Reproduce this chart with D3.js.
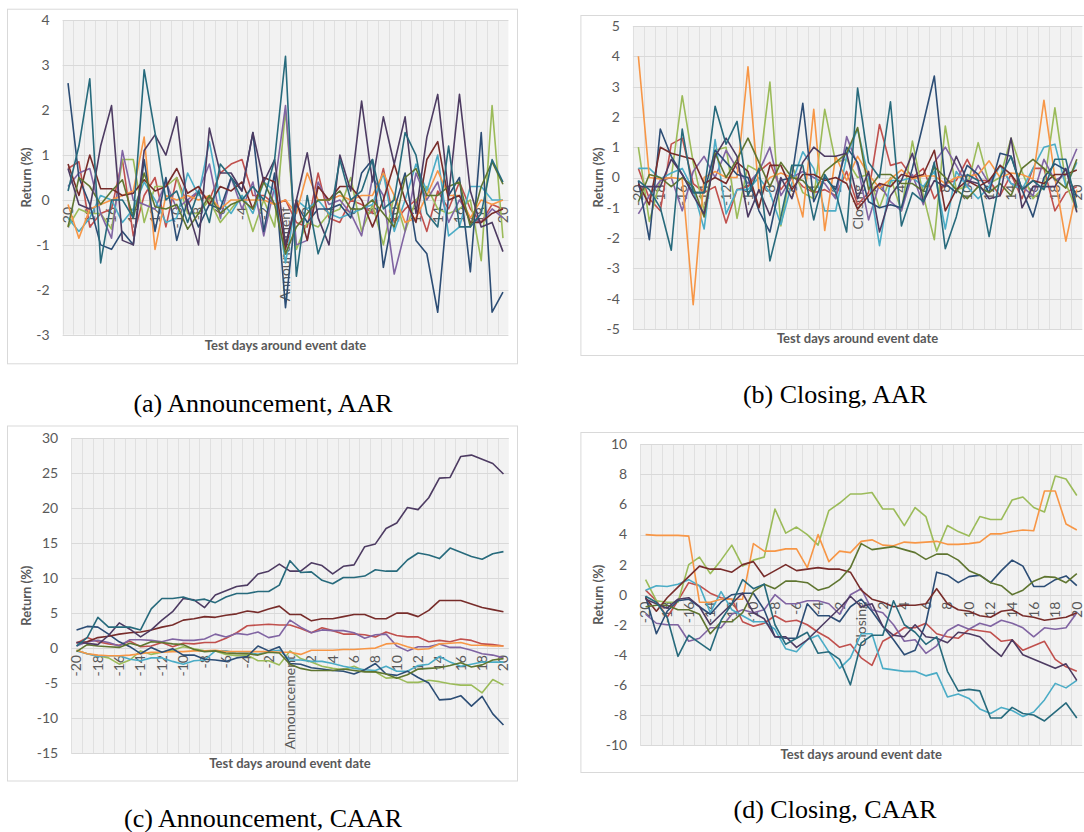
<!DOCTYPE html>
<html>
<head>
<meta charset="utf-8">
<script src="https://cdn.jsdelivr.net/npm/d3@7"></script>
<style>
    body { margin: 0; background: #fff; }
    svg { display: block; }
    .tick-lab { font-family: Lato, 'Open Sans', sans-serif; font-size: 14px; fill: #595959; }
    .axis-title { font-family: Lato, 'Open Sans', sans-serif; font-size: 13px; font-weight: bold; fill: #595959; }
    .caption { font-family: 'Liberation Serif', serif; font-size: 26px; fill: #000; }
</style>
</head>
<body>
<svg id="svg" width="1084" height="832"></svg>
<script>

// test days around the event
var days = [-20, -19, -18, -17, -16, -15, -14, -13, -12, -11, -10, -9, -8, -7, -6, -5, -4, -3, -2, -1,
    0, 1, 2, 3, 4, 5, 6, 7, 8, 9, 10, 11, 12, 13, 14, 15, 16, 17, 18, 19, 20];
var tickDays = [-20, -18, -16, -14, -12, -10, -8, -6, -4, -2, 0, 2, 4, 6, 8, 10, 12, 14, 16, 18, 20];

// series colours (excel 2007 palette, series 2..11)
var seriesColors = ['#C0504D', '#9BBB59', '#8064A2', '#4BACC6', '#F79646',
    '#2C4D75', '#772C2A', '#5F7530', '#4D3B62', '#276A7C'];

// (a) announcement, AAR  -- one row per series, same order as seriesColors
var annAAR = [
    [0.7, 0.85, -0.6, -0.3, -0.2, 0.9, -0.8, 0.1, 0.5, -0.6, 0.5, -0.1, 0.2, 0, 0.6, 0.8, 0.9, 0.1, 0.1, -0.1, 0, -0.5, -0.6, 0.6, -0.4, -0.5, 0, -0.1, -0.3, 0.7, -0.5, -0.2, 0, -0.7, 0.2, -0.2, 0.4, -0.2, -0.5, -0.1, -0.2],
    [-0.6, -0.2, -0.3, -0.3, -0.65, 0.9, 0.9, -0.5, 0.3, 0.3, 0.5, -0.3, -0.3, 0, -0.5, -0.2, 0.1, -0.7, 0, -0.6, 2.0, -1.1, -0.5, -0.6, -0.3, -0.2, 0.5, -0.7, -0.1, -1.0, 0.1, -0.7, 0, 0.3, -0.2, -0.3, -0.2, 0, -1.35, 2.1, -0.85],
    [0.3, 0.6, 0.7, -0.3, -0.85, 1.1, 0, -0.1, -0.2, 0.4, -0.2, 0, 0.2, 0.8, -0.4, 0.5, -0.2, 0.4, -0.8, 0.3, 2.1, -1.0, -0.9, 0.4, -0.1, 0, -0.3, -0.8, 0.5, 0.1, -1.65, -0.7, 0.6, 0, 0.4, -0.5, 0, -0.4, -0.5, -0.2, -0.4],
    [-0.4, -0.7, -0.4, 0.1, 0, -0.5, -0.2, 0.4, 0, -0.5, -0.4, 0.6, 0.1, 1.3, 0, -0.3, 0.1, -0.3, 0.4, 0.2, -1.4, 0, -0.2, 0, -0.3, -0.4, -0.3, -0.2, -0.1, 0.6, -0.7, 0, 0.8, 0.2, 1.0, -0.8, -0.6, 0.3, 0.3, 0, 0],
    [-0.1, -0.85, -0.2, -0.1, 0, 0.1, 0.2, 1.4, -1.1, 0.1, 0, 0.1, 0, 0.1, -0.2, 0, 0, 0, 0, -0.1, 0, -0.3, 0.6, 0, 0, 0.1, 0, 0.1, 0.1, 0.6, 0.1, -0.5, -0.4, 0.1, 0.65, 0.1, 0.1, -0.4, 0, -0.1, 0],
    [2.6, 0.5, -0.1, -1.0, -1.1, -0.7, -1.0, 0.9, -0.7, 0.5, -0.9, 0, -0.6, -0.1, -0.2, 0.5, 0.2, 1.5, -0.7, 0.6, -2.4, -0.1, -0.5, -0.2, -0.2, -0.1, -0.4, 0.6, 0.9, -1.5, -0.2, 0.6, -0.9, -1.2, -2.5, 0.1, 0.5, -1.6, 1.5, -2.5, -2.05],
    [0.8, 0.1, 1.0, 0.25, 0.25, 0.1, 0.15, 0.45, 0.2, 0.3, 0.7, 0.15, 0.3, -0.1, 0.3, 0.2, 0.4, -0.2, 0.5, 0.4, -1.1, 0, -0.9, 0.3, 0, 0.3, 0.3, 0, -0.6, 0, 0.8, 0, -0.5, 0.9, 1.3, 0, 0.1, -0.5, -0.5, -0.3, -0.2],
    [-0.6, 0.5, 0.3, -0.1, 0.2, 0.45, -0.4, 0.6, -0.15, -0.2, -0.1, -0.65, -0.3, 0.1, -0.3, -0.1, 0, -0.2, 0.4, -0.1, -1.2, -0.6, -0.3, 0, 0, 0.2, -0.2, -0.2, 0, -0.3, -0.6, 0.5, 0.7, 0.1, 0.1, 0.3, 0.4, -0.6, 0.3, 0.85, 0.35],
    [0.7, -0.1, -0.2, 1.2, 2.1, -0.9, -1.0, 1.1, 1.45, 1.0, 1.85, -0.2, -1.0, 1.6, 0.6, 0.6, 0.2, 1.5, 0.4, 0.9, -1.0, 0, 1.05, -0.4, -1.0, 1.0, 0.2, 2.2, 0.4, 1.85, 0.8, 1.85, -0.3, 1.4, 2.35, 0.1, 2.35, 0.2, -0.6, -0.5, -1.15],
    [0.2, 1.2, 2.7, -1.4, 0, 0, -0.4, 2.9, 1.5, 0, 0.2, -0.5, 0.2, -0.5, 0.8, 0.5, 0, 0.3, 0, 0.9, 3.2, -1.7, 0.1, -1.2, -0.5, 0.9, 0, 0.2, 0.9, -0.2, 0, 1.5, 1.0, -0.3, -0.6, 1.2, -0.6, -0.6, -0.3, 0.9, 0.4]
];

// (b) closing, AAR
var closeAAR = [
    [0.3, -0.7, -1.1, 1.1, 1.3, -0.2, -0.5, -0.3, -1.5, -0.4, -0.3, 0.2, 0.5, -0.4, 0.1, -0.3, -0.5, -0.4, -0.6, 0.2, -0.9, -0.5, 1.75, 0.4, 0.5, 0.0, 0.3, -0.7, -0.2, -0.1, 0.6, -0.1, -0.1, -0.6, 0.1, -0.7, 0.3, 0.3, -1.1, -0.5, -0.3],
    [1.0, -1.45, -0.1, 0.0, 2.7, 0.5, -1.1, 0.9, 1.0, -1.35, 0.4, 0.2, 3.15, -1.6, 0.4, -0.5, -0.7, 2.25, 0.5, 0.6, 0.0, 0.1, -1.0, 0.0, -1.1, 1.2, -0.6, -2.05, 1.7, -0.4, -0.3, 1.15, -0.2, 0.0, 1.3, 0.2, -0.7, -0.3, 2.3, -0.2, -1.1],
    [-1.2, -0.6, -0.1, 0.0, -1.1, 0.2, 0.7, 0.0, 0.9, 0.3, -0.2, 0.2, 1.0, -0.6, 0.0, 0.2, 0.0, -0.2, -0.7, 1.35, 0.4, -1.4, -0.2, -0.8, -1.1, 0.1, -0.9, 0.5, 1.0, 0.4, -0.3, 0.4, -0.2, 0.4, -0.2, -0.3, -0.6, 0.6, -0.1, 0.1, 0.95],
    [0.3, 0.3, -0.05, 0.15, 0.3, -0.4, -1.7, 1.25, -1.2, -0.4, -0.4, 0.0, -0.5, -1.55, -0.2, 0.85, 0.3, -1.1, -1.1, 0.7, 1.6, 0.0, -2.25, -0.1, -0.1, 0.0, -0.3, 0.2, -1.7, 0.2, -0.3, -0.7, -0.3, 0.4, -0.2, -0.4, 0.3, 1.0, 1.1, -0.3, 0.5],
    [4.0, 0.0, -0.05, 0.0, -0.05, -4.2, 0.0, 0.2, 0.0, 0.0, 3.65, -0.5, 0.0, 0.15, 0.0, -1.3, 2.25, -1.75, 0.7, -0.1, 0.7, 0.1, -0.35, -0.05, 0.25, -0.05, 0.05, 0.05, -0.2, 0.0, 0.05, 0.1, 0.55, 0.0, 0.15, 0.1, -0.05, 2.55, 0.0, -2.1, -0.4],
    [-0.1, -2.05, 1.6, 0.7, 0.1, -0.5, -0.5, 0.9, 0.5, 0.1, 0.0, -1.1, -1.8, -0.1, 0.0, 2.45, -0.8, 0.0, -0.4, 1.0, 0.5, -0.8, -1.0, -0.9, -1.0, 0.3, 1.8, 3.35, -0.2, -0.5, 0.4, 0.1, -0.5, 0.8, 0.7, -0.4, -1.3, 0.0, 0.45, 0.25, -0.65],
    [-0.2, -0.9, 1.0, 0.8, 0.7, 0.6, -0.2, 0.0, -0.2, 0.5, 0.2, -1.0, 0.4, 0.4, -0.4, 0.1, 0.1, -0.1, 0.0, -0.2, -1.05, -0.6, -0.2, -0.3, 0.1, 0.0, 0.1, 0.9, -1.1, -0.4, -0.1, -0.3, -0.1, 0.4, 0.1, -0.4, -0.1, -0.2, 0.1, 0.1, 0.25],
    [-0.8, 0.1, 0.0, -0.3, 0.0, -0.3, -1.3, 0.8, 0.0, 0.6, 1.3, 0.5, -0.3, 0.5, 0.0, -0.1, -0.5, 0.2, 0.5, 0.8, 1.65, -0.4, 0.1, 0.1, -0.2, -0.2, -0.45, 0.35, 0.0, -0.4, -0.7, -0.3, -0.5, -0.2, -0.6, 0.3, 0.6, 0.3, -0.05, -0.35, 0.6],
    [-0.3, -0.3, -0.3, 0.6, 0.1, -0.6, -1.2, 0.7, 1.3, 0.7, -1.3, -0.4, -1.25, 0.0, -0.7, 0.5, 1.0, 0.7, 0.7, 0.8, -0.7, 0.2, -1.8, -0.6, -0.1, 0.8, -0.8, -0.1, -0.3, 0.7, -0.1, -0.2, -0.7, -0.6, 1.3, -1.0, -0.3, -0.3, -0.3, 0.3, -1.15],
    [-0.1, -0.4, -1.0, -2.4, 1.6, -0.5, -0.5, 2.35, 1.1, 1.85, -0.6, 0.3, -2.75, -1.3, 0.4, 0.4, -1.4, 0.1, -0.5, -1.8, 2.95, 0.5, 0.0, 2.5, -1.6, -0.5, -0.8, 0.5, -2.35, -1.3, 0.1, -0.1, -1.95, 0.0, 0.7, -0.4, -0.1, -0.4, 0.6, 0.6, -1.0]
];

// (c) announcement, CAAR
var annCAAR = [
    [0.7, 1.5, 0.9, 0.6, 0.4, 1.0, 0.2, 0.3, 0.8, 0.2, 0.7, 0.6, 0.8, 0.8, 1.4, 2.2, 3.2, 3.3, 3.4, 3.3, 3.3, 2.8, 2.2, 2.9, 2.5, 2.0, 2.0, 1.9, 1.6, 2.3, 1.8, 1.6, 1.6, 0.9, 1.1, 0.9, 1.3, 1.1, 0.6, 0.5, 0.3],
    [-0.3, -0.8, -1.1, -1.4, -2.3, -1.7, -0.4, -0.9, -0.6, -0.3, 0.2, -0.1, -0.4, -0.4, -0.9, -1.1, -1.0, -1.8, -1.8, -2.4, -0.4, -1.5, -2.0, -2.6, -2.9, -3.1, -2.6, -3.3, -3.4, -4.3, -4.2, -4.9, -4.9, -4.6, -4.8, -5.1, -5.3, -5.3, -6.4, -4.5, -5.3],
    [0.3, 0.9, 1.1, 0.8, 0.3, 1.2, 1.2, 1.1, 0.9, 1.3, 1.1, 1.1, 1.3, 2.0, 1.6, 2.1, 1.9, 2.3, 1.5, 1.8, 4.0, 3.0, 2.2, 2.6, 2.5, 2.5, 2.2, 1.4, 1.9, 2.0, 0.3, -0.4, 0.2, 0.2, 0.6, 0.1, 0.1, -0.3, -0.8, -1.0, -1.4],
    [-0.4, -0.8, -1.2, -1.1, -1.1, -1.6, -1.8, -1.4, -1.4, -1.9, -2.3, -1.8, -1.7, -0.4, -0.4, -0.7, -0.6, -0.9, -0.5, -0.3, -1.7, -1.7, -1.9, -1.9, -2.2, -2.6, -2.9, -3.1, -3.2, -2.6, -3.3, -3.3, -2.5, -2.3, -1.2, -2.0, -2.6, -2.3, -2.0, -2.0, -2.0],
    [-0.3, -0.8, -1.0, -1.1, -1.1, -1.0, -0.8, -0.6, -0.6, -0.5, -0.5, -0.4, -0.4, -0.3, -0.5, -0.5, -0.5, -0.5, -0.5, -0.6, -0.6, -0.9, -0.3, -0.3, -0.3, -0.2, -0.2, -0.1, 0.0, 0.6, 0.7, 0.2, -0.2, -0.1, 0.6, 0.7, 0.8, 0.4, 0.4, 0.3, 0.3],
    [2.6, 3.1, 3.0, 2.0, 0.9, 0.2, -0.8, 0.1, -0.6, -0.1, -1.0, -1.0, -1.6, -1.7, -1.9, -1.4, -1.2, 0.3, -0.4, 0.2, -2.2, -2.3, -2.8, -3.0, -3.2, -3.3, -3.7, -3.1, -2.2, -3.7, -3.9, -3.3, -4.2, -5.0, -7.4, -7.3, -6.8, -8.3, -6.9, -9.4, -11.0],
    [0.8, 0.9, 1.5, 1.7, 2.0, 2.2, 2.3, 2.6, 3.0, 3.3, 4.0, 4.2, 4.5, 4.4, 4.7, 4.9, 5.3, 5.1, 5.6, 6.0, 4.8, 4.8, 3.9, 4.2, 4.2, 4.5, 4.8, 4.8, 4.2, 4.2, 5.0, 5.0, 4.5, 5.4, 6.8, 6.8, 6.8, 6.3, 5.8, 5.5, 5.2],
    [-0.5, 0.5, 0.3, 0.2, 0.1, 0.7, 0.3, 0.9, 0.8, 0.6, 0.5, -0.2, -0.5, -0.4, -0.7, -0.8, -0.8, -1.0, -0.6, -0.7, -2.3, -2.9, -3.2, -3.2, -3.2, -3.0, -3.2, -3.4, -3.4, -3.7, -4.3, -3.8, -3.0, -2.9, -2.8, -2.5, -2.1, -2.7, -2.4, -1.7, -1.5],
    [0.8, 0.7, 0.5, 1.8, 3.6, 2.7, 1.6, 2.6, 4.0, 5.2, 7.1, 6.9, 5.8, 7.6, 8.2, 8.8, 9.0, 10.6, 11.0, 12.0, 11.0, 11.0, 12.2, 11.8, 10.6, 11.7, 11.9, 14.5, 14.9, 17.1, 17.9, 20.1, 19.8, 21.5, 24.3, 24.4, 27.4, 27.6, 27.0, 26.4, 24.9],
    [0.3, 1.5, 4.4, 3.0, 3.0, 3.0, 2.6, 5.6, 7.1, 7.1, 7.3, 6.8, 7.0, 6.5, 7.3, 7.8, 7.8, 8.1, 8.1, 9.0, 12.5, 10.8, 10.9, 9.7, 9.2, 10.1, 10.1, 10.3, 11.2, 11.0, 11.0, 12.6, 13.6, 13.3, 12.8, 14.3, 13.7, 13.1, 12.7, 13.5, 13.8]
];

// (d) closing, CAAR
var closeCAAR = [
    [0.3, -0.4, -1.5, -0.4, 0.8, 0.6, 0.1, -0.2, -0.3, -1.8, -2.1, -1.9, -1.4, -1.8, -1.7, -2.0, -2.5, -2.9, -3.5, -3.3, -4.2, -4.7, -3.1, -2.7, -2.2, -2.2, -1.9, -2.6, -2.8, -2.9, -2.3, -2.4, -2.5, -3.1, -3.0, -3.7, -3.4, -3.1, -4.3, -4.8, -5.1],
    [1.0, -0.4, -0.5, -0.5, 2.0, 2.5, 1.4, 2.3, 3.3, 1.9, 2.3, 2.5, 5.7, 4.1, 4.5, 4.0, 3.3, 5.6, 6.1, 6.7, 6.7, 6.8, 5.7, 5.7, 4.6, 5.8, 5.2, 2.9, 4.6, 4.2, 3.9, 5.2, 5.0, 5.0, 6.3, 6.5, 5.8, 5.5, 7.9, 7.7, 6.6],
    [-1.3, -1.9, -2.0, -2.0, -3.1, -2.9, -2.2, -2.2, -1.3, -1.0, -1.2, -1.0, 0.0, -0.6, -0.6, -0.4, -0.4, -0.6, -1.3, 0.0, 0.4, -1.0, -1.2, -2.0, -3.1, -3.0, -3.9, -3.4, -2.4, -2.0, -2.3, -1.9, -2.1, -1.7, -1.9, -2.2, -2.8, -2.2, -2.3, -2.2, -1.2],
    [0.3, 0.6, 0.55, 0.7, 1.0, 0.6, -1.2, 0.2, -1.0, -1.4, -1.8, -1.8, -2.3, -3.6, -3.8, -3.0, -2.7, -3.8, -4.9, -4.2, -2.6, -2.6, -4.9, -5.0, -5.1, -5.1, -5.4, -5.2, -6.8, -6.6, -6.9, -7.6, -7.9, -7.5, -7.7, -8.1, -7.8, -7.0, -5.9, -6.2, -5.7],
    [4.0, 3.95, 3.95, 3.95, 3.9, -0.5, -0.5, -0.3, -0.3, -0.3, 3.4, 2.9, 2.9, 3.05, 3.05, 1.8, 4.0, 2.2, 2.9, 2.8, 3.55, 3.65, 3.3, 3.25, 3.5, 3.45, 3.5, 3.55, 3.35, 3.35, 3.4, 3.5, 4.05, 4.05, 4.2, 4.3, 4.25, 6.9, 6.9, 4.7, 4.3],
    [-0.1, -2.6, -1.1, -0.4, -0.3, -0.8, -1.3, -0.5, 0.0, 0.1, 0.1, -1.0, -2.8, -2.9, -2.9, -0.6, -1.4, -1.4, -1.8, -0.8, -0.3, -1.1, -2.1, -3.0, -4.0, -3.7, -1.9, 1.5, 1.3, 0.8, 1.2, 1.3, 0.8, 1.6, 2.3, 1.9, 0.55, 0.55, 1.0, 1.25, 0.6],
    [-0.2, -1.1, -0.2, 0.5, 1.2, 1.9, 1.7, 1.7, 1.5, 2.0, 2.2, 1.2, 1.6, 2.0, 1.6, 1.7, 1.8, 1.7, 1.7, 1.5, 0.3, -0.3, -0.5, -0.8, -0.7, -0.7, -0.6, 0.4, -0.6, -1.0, -1.1, -1.4, -1.5, -1.1, -1.0, -1.4, -1.5, -1.7, -1.6, -1.5, -1.2],
    [-0.8, -0.7, -0.7, -1.0, -1.0, -1.3, -2.6, -1.8, -1.8, -1.2, 0.2, 0.7, 0.4, 0.9, 0.9, 0.8, 0.3, 0.5, 1.0, 1.8, 3.4, 3.0, 3.1, 3.2, 3.0, 2.8, 2.35, 2.7, 2.7, 2.3, 1.6, 1.3, 0.8, 0.6, 0.0, 0.3, 0.9, 1.2, 1.15, 0.8, 1.4],
    [-0.3, -0.6, -0.9, -0.3, -0.2, -0.8, -2.0, -1.3, -0.6, 0.1, -1.2, -1.6, -2.8, -2.8, -3.5, -3.0, -2.3, -1.6, -0.9, -0.1, -0.8, -0.6, -2.1, -2.7, -2.8, -2.0, -2.8, -2.9, -3.2, -2.5, -2.6, -2.8, -3.5, -4.1, -3.0, -4.0, -4.3, -4.6, -4.9, -4.6, -5.7],
    [-0.1, -0.5, -1.5, -4.1, -2.7, -3.2, -3.7, -1.7, -0.6, 1.0, 0.4, 0.7, -2.0, -3.3, -2.9, -2.5, -3.9, -3.8, -4.3, -6.0, -3.2, -2.7, -2.7, -0.4, -2.0, -2.5, -3.3, -2.8, -5.1, -6.4, -6.3, -6.4, -8.2, -8.2, -7.5, -7.9, -8.0, -8.4, -7.8, -7.2, -8.2]
];

var panels = [
    {data: annAAR, yDomain: [-3, 4], yStep: 1, event: 'Announcement', caption: '(a) Announcement, AAR',
        box: [7, 8.7, 510, 354.6], plot: [62.6, 20.3, 508.4, 334.7], titleY: 350, yTitleX: 26, cap: [263, 412]},
    {data: closeAAR, yDomain: [-5, 5], yStep: 1, event: 'Closing', caption: '(b) Closing, AAR',
        box: [580.4, 15, 530, 340], plot: [632.9, 26, 1082.3, 329], titleY: 343, yTitleX: 598, cap: [835, 403]},
    {data: annCAAR, yDomain: [-15, 30], yStep: 5, event: 'Announcement', caption: '(c) Announcement, CAAR',
        box: [7, 425.5, 510, 355], plot: [71.2, 438.3, 508.8, 753], titleY: 767.5, yTitleX: 26, cap: [263, 827]},
    {data: closeCAAR, yDomain: [-10, 10], yStep: 2, event: 'Closing', caption: '(d) Closing, CAAR',
        box: [580.4, 432, 530, 340], plot: [640.2, 444.4, 1082.2, 745], titleY: 759, yTitleX: 598, cap: [835, 818]}
];

var $svg = d3.select('#svg');

panels.forEach(function (p) {
    drawPanel(p);
});

function drawPanel(p) {
    var $g = $svg.append('g'),
        left = p.plot[0], top = p.plot[1], right = p.plot[2], bottom = p.plot[3];

    $g.append('rect')
        .attr('x', p.box[0] + 0.5)
        .attr('y', p.box[1] + 0.5)
        .attr('width', p.box[2])
        .attr('height', p.box[3])
        .attr('fill', '#fff')
        .attr('stroke', '#d9d9d9');

    var x = d3.scaleBand().domain(days).range([left, right]),
        y = d3.scaleLinear().domain(p.yDomain).range([bottom, top]),
        bw = x.bandwidth(),
        yTicks = d3.range(p.yDomain[0], p.yDomain[1] + p.yStep / 2, p.yStep);

    $g.append('rect')
        .attr('x', left)
        .attr('y', top)
        .attr('width', right - left)
        .attr('height', bottom - top)
        .attr('fill', '#f2f2f2');

    // one vertical line per category
    $g.append('g')
        .selectAll('line')
        .data(days)
        .enter()
        .append('line')
        .attr('x1', function (d) { return Math.round(x(d)) + 0.5; })
        .attr('x2', function (d) { return Math.round(x(d)) + 0.5; })
        .attr('y1', top)
        .attr('y2', bottom)
        .attr('stroke', '#e0e0e0');

    $g.append('g')
        .selectAll('line')
        .data(yTicks)
        .enter()
        .append('line')
        .attr('x1', left)
        .attr('x2', right)
        .attr('y1', function (v) { return Math.round(y(v)) + 0.5; })
        .attr('y2', function (v) { return Math.round(y(v)) + 0.5; })
        .attr('stroke', '#d9d9d9');

    $g.append('g')
        .selectAll('text')
        .data(yTicks)
        .enter()
        .append('text')
        .classed('tick-lab', true)
        .attr('x', left - 13)
        .attr('y', function (v) { return y(v); })
        .attr('dy', '0.35em')
        .attr('text-anchor', 'end')
        .text(function (v) { return v; });

    // category labels hang below the zero line
    $g.append('g')
        .selectAll('text')
        .data(tickDays)
        .enter()
        .append('text')
        .classed('tick-lab', true)
        .attr('transform', function (d) {
            return 'translate(' + (x(d) + bw / 2) + ',' + (y(0) + 7) + ') rotate(-90)';
        })
        .attr('dy', '0.35em')
        .attr('text-anchor', 'end')
        .text(function (d) { return d === 0 ? p.event : d; });

    var line = d3.line()
        .x(function (v, i) { return x(days[i]) + bw / 2; })
        .y(function (v) { return y(v); });

    $g.append('g')
        .selectAll('path')
        .data(p.data)
        .enter()
        .append('path')
        .attr('d', line)
        .attr('fill', 'none')
        .attr('stroke', function (s, i) { return seriesColors[i]; })
        .attr('stroke-width', 1.6)
        .attr('stroke-linejoin', 'round');

    $g.append('text')
        .classed('axis-title', true)
        .attr('x', (left + right) / 2)
        .attr('y', p.titleY)
        .attr('text-anchor', 'middle')
        .text('Test days around event date');

    $g.append('text')
        .classed('axis-title', true)
        .attr('transform', 'translate(' + p.yTitleX + ',' + (top + bottom) / 2 + ') rotate(-90)')
        .attr('dy', '0.35em')
        .attr('text-anchor', 'middle')
        .text('Return (%)');

    $svg.append('text')
        .classed('caption', true)
        .attr('x', p.cap[0])
        .attr('y', p.cap[1])
        .attr('text-anchor', 'middle')
        .text(p.caption);
}

</script>
</body>
</html>
